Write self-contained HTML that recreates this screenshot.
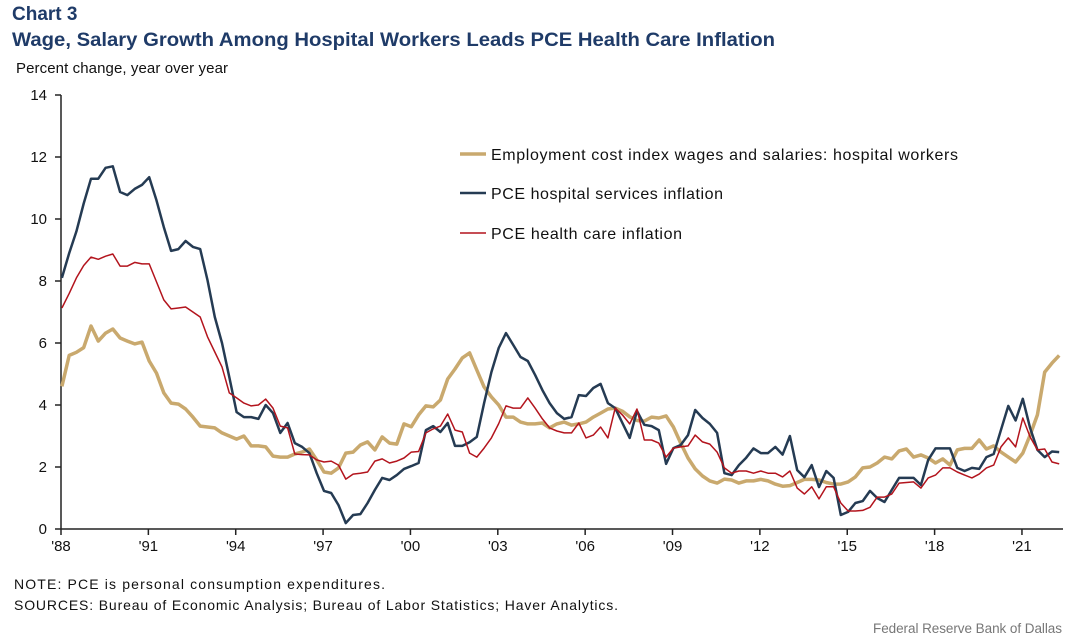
<!DOCTYPE html>
<html><head><meta charset="utf-8"><style>
body{margin:0;background:#fff;width:1080px;height:638px;overflow:hidden;font-family:"Liberation Sans",sans-serif}
svg{position:absolute;left:0;top:0}
</style></head><body>
<svg width="1080" height="638">
<text x="12" y="20" font-size="19" font-weight="bold" fill="#1f3b68">Chart 3</text>
<text x="12" y="46" font-size="19" font-weight="bold" fill="#1f3b68" textLength="763" lengthAdjust="spacingAndGlyphs">Wage, Salary Growth Among Hospital Workers Leads PCE Health Care Inflation</text>
<text x="16" y="73" font-size="15" fill="#111" textLength="212">Percent change, year over year</text>
<g id="axes"></g>
<g id="series"></g>
<g>
<line x1="460" y1="154" x2="486" y2="154" stroke="#c9a96e" stroke-width="3.5"/>
<text x="491" y="160" font-size="16" fill="#111" textLength="467">Employment cost index wages and salaries: hospital workers</text>
<line x1="460" y1="193" x2="486" y2="193" stroke="#253b53" stroke-width="2.5"/>
<text x="491" y="199" font-size="16" fill="#111" textLength="232">PCE hospital services inflation</text>
<line x1="460" y1="233" x2="486" y2="233" stroke="#b3141d" stroke-width="1.5"/>
<text x="491" y="239" font-size="16" fill="#111" textLength="191">PCE health care inflation</text>
</g>
<text x="14" y="589" font-size="14" fill="#111" textLength="371">NOTE: PCE is personal consumption expenditures.</text>
<text x="14" y="610" font-size="14" fill="#111" textLength="604">SOURCES: Bureau of Economic Analysis; Bureau of Labor Statistics; Haver Analytics.</text>
<text x="873" y="633" font-size="13.5" fill="#777" textLength="189">Federal Reserve Bank of Dallas</text>
</svg>
<script>
const startYear = 1988;
const xTickLabels = ["'88","'91","'94","'97","'00","'03","'06","'09","'12","'15","'18","'21"];
const xTickYears = [1988,1991,1994,1997,2000,2003,2006,2009,2012,2015,2018,2021];
const yTicks = [0,2,4,6,8,10,12,14];
const eci = [4.6,5.6,5.7,5.85, 6.55,6.06,6.32,6.45, 6.16,6.06,5.97,6.03, 5.42,5.03,4.39,4.06, 4.03,3.87,3.61,3.32, 3.29,3.26,3.1,3.0, 2.9,3.0,2.68,2.68, 2.65,2.35,2.32,2.32, 2.42,2.48,2.58,2.23, 1.84,1.8,1.97,2.45, 2.48,2.71,2.81,2.55, 2.97,2.77,2.74,3.39, 3.3,3.68,3.97,3.94, 4.16,4.84,5.16,5.52, 5.68,5.13,4.58,4.26, 4.0,3.61,3.61,3.45, 3.39,3.39,3.42,3.26, 3.39,3.45,3.35,3.39, 3.45,3.61,3.74,3.87, 3.9,3.8,3.62,3.5, 3.48,3.61,3.58,3.65, 3.29,2.77,2.29,1.94, 1.71,1.55,1.48,1.61, 1.58,1.48,1.55,1.55, 1.6,1.55,1.45,1.38, 1.4,1.5,1.6,1.6, 1.58,1.5,1.45,1.45, 1.52,1.68,1.97,2.0, 2.13,2.32,2.26,2.52, 2.58,2.32,2.39,2.29, 2.13,2.26,2.06,2.55, 2.6,2.6,2.87,2.58, 2.68,2.48,2.32,2.16, 2.45,3.03,3.68,5.06, 5.35,5.6];
const hospital = [8.1,8.9,9.6,10.5, 11.3,11.3,11.65,11.7, 10.87,10.77,10.97,11.1, 11.35,10.6,9.74,8.97, 9.03,9.29,9.1,9.03, 8.03,6.84,6.0,4.9, 3.77,3.61,3.61,3.55, 4.0,3.74,3.1,3.42, 2.77,2.65,2.45,1.8, 1.23,1.16,0.77,0.19, 0.45,0.48,0.84,1.26, 1.65,1.58,1.74,1.94, 2.03,2.13,3.19,3.32, 3.13,3.42,2.68,2.68, 2.8,2.97,4.06,5.06, 5.84,6.32,5.94,5.55, 5.42,4.97,4.48,4.06, 3.74,3.55,3.61,4.32, 4.29,4.55,4.68,4.06, 3.9,3.42,2.94,3.81, 3.36,3.32,3.19,2.1, 2.61,2.71,3.03,3.84, 3.58,3.39,3.1,1.8, 1.74,2.06,2.3,2.6, 2.45,2.45,2.65,2.4, 3.0,1.9,1.67,2.06, 1.35,1.87,1.65,0.45, 0.55,0.84,0.9,1.23, 1.0,0.87,1.26,1.65, 1.65,1.65,1.42,2.23, 2.6,2.6,2.6,1.97, 1.87,1.97,1.94,2.32, 2.42,3.2,3.97,3.5, 4.2,3.26,2.55,2.32, 2.5,2.48];
const health = [7.13,7.6,8.1,8.5, 8.77,8.7,8.8,8.87, 8.48,8.48,8.6,8.55, 8.55,7.97,7.39,7.1, 7.13,7.16,7.0,6.84, 6.2,5.71,5.23,4.39, 4.23,4.06,3.97,4.0, 4.19,3.9,3.32,3.26, 2.42,2.4,2.39,2.23, 2.16,2.19,2.06,1.61, 1.77,1.8,1.84,2.19, 2.26,2.13,2.19,2.29, 2.48,2.5,3.1,3.23, 3.32,3.71,3.19,3.13, 2.45,2.32,2.61,2.94, 3.4,3.97,3.9,3.9, 4.23,3.9,3.55,3.26, 3.16,3.1,3.1,3.42, 2.94,3.03,3.29,2.94, 3.9,3.68,3.39,3.87, 2.87,2.87,2.77,2.32, 2.61,2.65,2.68,3.03, 2.81,2.74,2.48,1.97, 1.8,1.87,1.87,1.8, 1.87,1.8,1.8,1.68, 1.87,1.32,1.13,1.36, 0.97,1.36,1.36,0.84, 0.58,0.58,0.6,0.7, 1.03,1.03,1.13,1.48, 1.5,1.52,1.32,1.65, 1.74,1.97,1.97,1.84, 1.74,1.65,1.77,1.97, 2.06,2.65,2.94,2.65, 3.58,2.97,2.55,2.58, 2.16,2.1];

const NS='http://www.w3.org/2000/svg';
const X0=61, X1=1063, pxPerYear=29.12, Y0=529, pxPerUnit=31;
const xs=y=>X0+(y-1988)*pxPerYear;
const ys=v=>Y0-v*pxPerUnit;
function mk(tag,attrs,parent){const e=document.createElementNS(NS,tag);for(const k in attrs)e.setAttribute(k,attrs[k]);parent.appendChild(e);return e;}
const axes=document.getElementById('axes');
const xa=mk('line',{x1:X0,y1:Y0,x2:X1,y2:Y0,stroke:'#222','stroke-width':1.5},axes);


const ya=mk('line',{x1:X0,y1:ys(14),x2:X0,y2:Y0,stroke:'#222','stroke-width':1.5},axes);


yTicks.forEach(v=>{
  const t=mk('line',{x1:X0-6,y1:ys(v),x2:X0,y2:ys(v),stroke:'#222','stroke-width':1.5},axes);
  
  
  const l=mk('text',{x:47,y:ys(v)+5,'font-size':15,'text-anchor':'end',fill:'#111'},axes);
  l.textContent=v;
  
  
});
xTickYears.forEach((yr,i)=>{
  const t=mk('line',{x1:xs(yr),y1:Y0,x2:xs(yr),y2:Y0+6,stroke:'#222','stroke-width':1.5},axes);
  
  
  const l=mk('text',{x:xs(yr),y:Y0+22,'font-size':15,'text-anchor':'middle',fill:'#111'},axes);
  l.textContent=xTickLabels[i];
  
  
});
const sg=document.getElementById('series');
function line(vals,color,w,name){
  const d=vals.map((v,i)=>(i?'L':'M')+xs(startYear+0.03+i/4).toFixed(1)+','+ys(v).toFixed(1)).join('');
  const p=mk('path',{d:d,fill:'none',stroke:color,'stroke-width':w,'stroke-linejoin':'round'},sg);
  
  
}
line(eci,'#c9a96e',3.5,'eci-line');
line(hospital,'#253b53',2.5,'hospital-services-line');
line(health,'#b3141d',1.5,'health-care-line');
</script>
</body></html>
